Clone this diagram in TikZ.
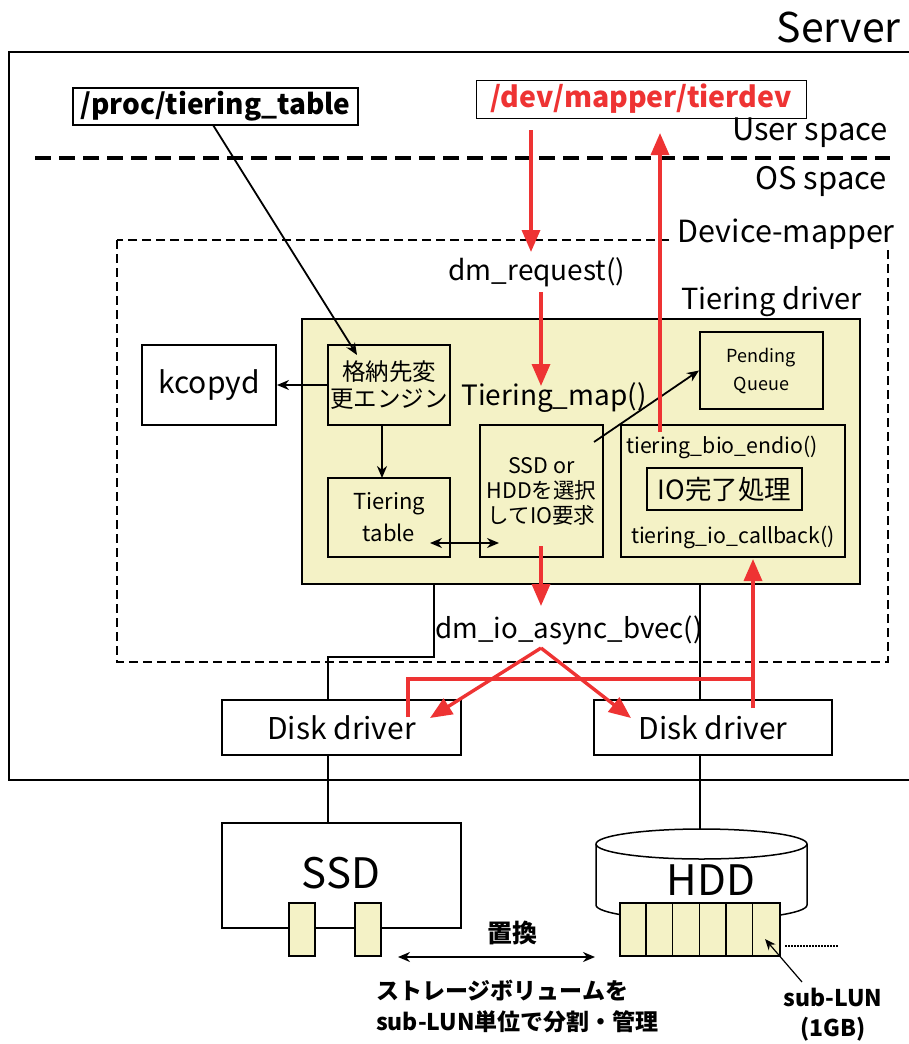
\documentclass[tikz,border=0pt]{standalone}
\usepackage{fontspec}
\setmainfont{Noto Sans CJK JP}
\usetikzlibrary{arrows.meta,calc}
\definecolor{ylw}{HTML}{F4F2C6}
\definecolor{rd}{HTML}{EE3333}
\newcommand{\fsz}[2]{\fontsize{#1}{#2}\selectfont}
\tikzset{
  box/.style={draw, line width=2pt, inner sep=0pt, align=center},
  ybox/.style={box, fill=ylw},
  txt/.style={inner sep=0pt, align=center},
  rarrow/.style={draw=rd, line width=3.4pt, -{Triangle[length=22pt,width=18pt]}},
  rline/.style={draw=rd, line width=3.4pt},
  barrow/.style={line width=1.8pt, -{Stealth[length=12pt,width=10pt]}},
  dbarrow/.style={line width=1.8pt, {Stealth[length=12pt,width=10pt]}-{Stealth[length=12pt,width=10pt]}},
  bline/.style={line width=1.8pt},
}
\begin{document}
\begin{tikzpicture}[x=1pt,y=-1pt]
\useasboundingbox (0,0) rectangle (908,1044);
% Server
\node[txt, anchor=east, font=\fsz{41}{44}] (server) at (901,27) {Server};
\draw[line width=2pt] (930,52) -- (9,52) -- (9,780) -- (930,780);
% top boxes
\node[box, minimum width=285pt, minimum height=37pt, font=\bfseries\fsz{28}{30}] (proc) at (215.5,106.5) {/proc/tiering\_table};
\node[box, line width=1pt, minimum width=330pt, minimum height=38pt, font=\bfseries\fsz{28.5}{30}, text=rd] (dev) at (641,99) {/dev/mapper/tierdev};
\node[txt, anchor=east, font=\fsz{31}{34}] (us) at (888,133) {User space};
\draw[line width=4pt, dash pattern=on 16pt off 8pt] (35,158) -- (890,158);
\node[txt, anchor=east, font=\fsz{31}{34}] (os) at (887,181) {OS space};
% device mapper
\draw[line width=2pt, dash pattern=on 9pt off 5pt] (117,240) rectangle (888,662);
\node[txt, fill=white, inner xsep=4pt, anchor=east, font=\fsz{30.5}{34}] (dm) at (899,234) {Device-mapper};
\node[txt, font=\fsz{28}{30}] (dmreq) at (537,272) {dm\_request()};
\node[txt, anchor=east, font=\fsz{29}{32}] (tdl) at (862,302) {Tiering driver};
% tiering driver
\node[ybox, minimum width=558pt, minimum height=265pt] (td) at (581,451.5) {};
\node[box, fill=white, minimum width=134pt, minimum height=80pt, font=\fsz{30}{32}] (kc) at (209,385) {kcopyd};
\node[ybox, minimum width=122pt, minimum height=80pt, font=\fsz{23.5}{27}] (eng) at (389,385) {格納先変\\更エンジン};
\node[ybox, minimum width=122pt, minimum height=79pt, font=\fsz{22}{32}] (tt) at (389,517.5) {Tiering\\table};
\node[ybox, minimum width=123pt, minimum height=132pt, font=\fsz{21.5}{25}] (sel) at (541.5,491) {SSD or\\HDDを選択\\してIO要求};
\node[ybox, minimum width=123pt, minimum height=77pt, font=\fsz{18}{28}] (pend) at (761.5,370.5) {Pending\\Queue};
\node[ybox, minimum width=224pt, minimum height=132pt] (endio) at (733,491) {};
\node[ybox, line width=1.2pt, minimum width=155pt, minimum height=42pt, font=\fsz{26.5}{28}] (iod) at (724.5,489) {IO完了処理};
\node[txt, font=\fsz{21.3}{24}] (bioend) at (722,447) {tiering\_bio\_endio()};
\node[txt, font=\fsz{21.3}{24}] (iocb) at (733,537) {tiering\_io\_callback()};
\node[txt, font=\fsz{28}{30}] (tmap) at (554,398) {Tiering\_map()};
\node[txt, font=\fsz{27.7}{30}] (dmio) at (569,630) {dm\_io\_async\_bvec()};
% disk drivers
\node[box, fill=white, line width=1.2pt, minimum width=239pt, minimum height=55pt, font=\fsz{30}{32}] (dd1) at (341.5,727.5) {Disk driver};
\node[box, fill=white, line width=1.2pt, minimum width=238pt, minimum height=55pt, font=\fsz{30}{32}] (dd2) at (713,727.5) {Disk driver};
% black connectors
\coordinate (p1) at (213,125);
\draw[barrow] (p1) -- (357,355);
\draw[barrow] (eng.west) -- (kc.east);
\draw[barrow] (382,425) -- (382,478);
\draw[dbarrow] (430,543) -- (499,543);
\draw[barrow] (594,442) -- (pend.west);
\draw[bline] (434,585) -- (434,657) -- (328,657) -- (328,700);
\draw[bline] (700,585) -- (700,700);
% red connectors
\draw[rarrow] (531,130) -- (531,252);
\draw[rarrow] (660,432) -- (660,133);
\draw[rarrow] (541,292) -- (541,386);
\draw[rarrow] (541,546) -- (541,606);
\coordinate (apex) at (541,648);
\draw[rarrow, line join=round] (apex) -- (430,718);
\draw[rarrow, line join=round] (apex) -- (631,718);
\draw[rline, line join=miter] (408,717) -- (408,679) -- (753,679);
\draw[rarrow] (753,708) -- (753,559);
% storage
\draw[bline] (328,755) -- (328,823);
\draw[bline] (700,755) -- (700,829);
\node[box, fill=white, line width=1.5pt, minimum width=239pt, minimum height=105pt] (ssd) at (341.5,875.5) {};
\node[txt, font=\fsz{42}{44}] (ssdl) at (341,873) {SSD};
\draw[line width=1.5pt, fill=white] (596,844) -- (596,905) arc[start angle=180, end angle=360, x radius=105.5pt, y radius=15pt] -- (807,844) arc[start angle=0, end angle=180, x radius=105.5pt, y radius=15pt];
\draw[line width=1.5pt] (596,844) arc[start angle=180, end angle=360, x radius=105.5pt, y radius=15pt];
\node[txt, font=\fsz{42}{44}] (hddl) at (711,880) {HDD};
\node[ybox, line width=1.5pt, minimum width=26pt, minimum height=53pt] (s1) at (302,929.5) {};
\node[ybox, line width=1.5pt, minimum width=26pt, minimum height=53pt] (s2) at (368,929.5) {};
\node[ybox, line width=1.5pt, minimum width=160pt, minimum height=53pt] (hl) at (700,929.5) {};
\foreach \i in {1,...,5} {
  \draw[line width=1.5pt] ($(hl.north west)+(26.667*\i,0)$) -- ($(hl.south west)+(26.667*\i,0)$);
}
\draw[line width=1.2pt, dash pattern=on 2pt off 1pt] (785,946) -- (838,946);
\node[txt, font=\bfseries\fsz{25}{28}] (chg) at (512,933) {置換};
\draw[dbarrow] (398,957) -- (595,957);
\node[txt, anchor=west, font=\bfseries\fsz{23}{32}] (vol1) at (376,990) {ストレージボリュームを};
\node[txt, anchor=west, font=\bfseries\fsz{23}{32}] (vol2) at (376,1022) {sub-LUN単位で分割・管理};
\node[txt, font=\bfseries\fsz{23}{30}, align=center] (sl) at (833,1015) {sub-LUN\\(1GB)};
\draw[line width=1.2pt, -{Stealth[length=11pt,width=9pt]}] (802,982) -- (765,939);
\end{tikzpicture}
\end{document}
